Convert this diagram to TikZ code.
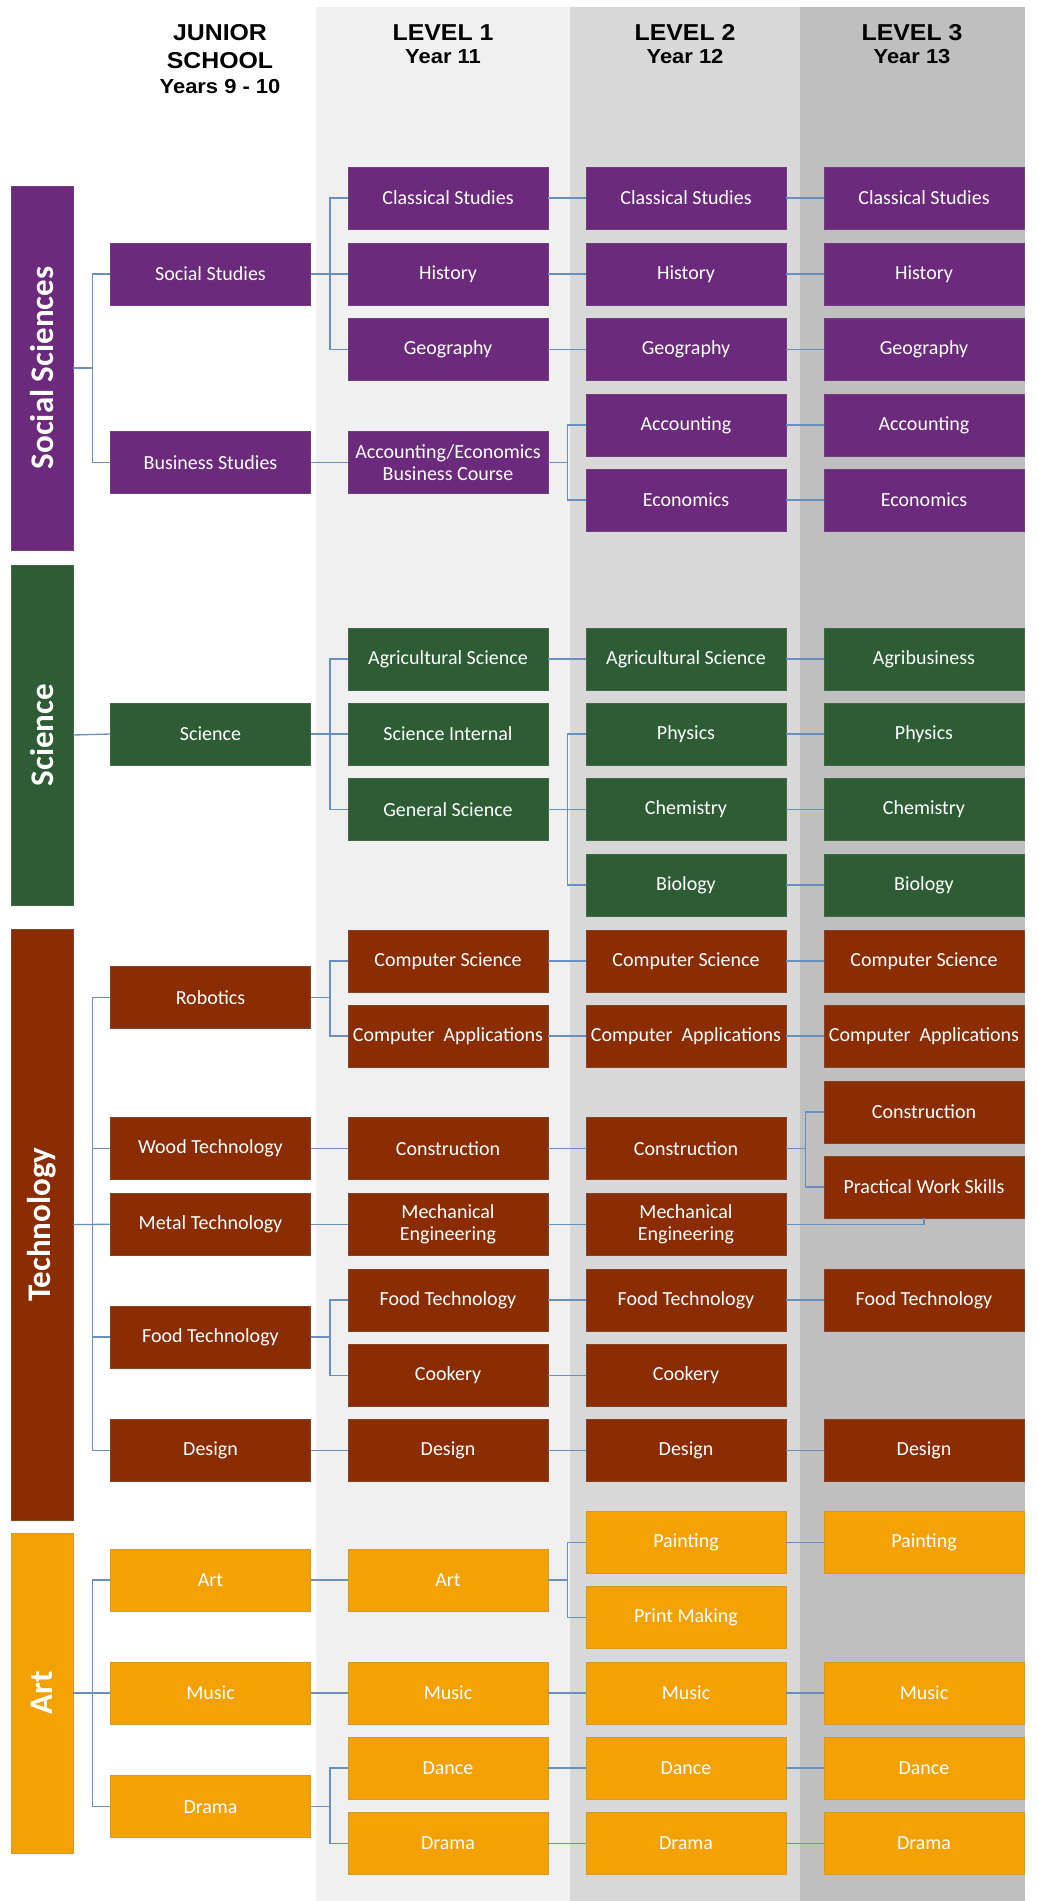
\documentclass[tikz,border=0pt]{standalone}
\usepackage{fontspec}
\setmainfont{Carlito}
\newfontfamily\hdrfont[FakeStretch=1.08]{Liberation Sans}
\definecolor{cpur}{HTML}{6B2A7B}
\definecolor{cgrn}{HTML}{2E5D35}
\definecolor{cbrn}{HTML}{8A2C04}
\definecolor{corg}{HTML}{F3A104}
\definecolor{cline}{HTML}{6790BF}
\definecolor{bandA}{HTML}{F0F0F0}
\definecolor{bandB}{HTML}{D8D8D8}
\definecolor{bandC}{HTML}{BFBFBF}
\begin{document}
\begin{tikzpicture}[x=1pt,y=-1pt,
  box/.style={minimum width=200pt,minimum height=62pt,inner sep=0pt,align=center,text=white,
    font=\fontsize{20}{22.5}\selectfont,line width=0.8pt},
  pbox/.style={box,fill=cpur,draw=cpur!75!gray},
  gbox/.style={box,fill=cgrn,draw=cgrn!75!gray},
  bbox/.style={box,fill=cbrn,draw=cbrn!75!gray},
  obox/.style={box,fill=corg,draw=corg!75!gray},
  bar/.style={minimum width=62pt,inner sep=0pt,text=white,line width=0.8pt,
    font=\fontsize{33}{36}\selectfont\bfseries},
  conn/.style={draw=cline,line width=1.3pt},
  hdr/.style={anchor=base,font=\hdrfont\bfseries\fontsize{23}{26}\selectfont},
  hdrs/.style={anchor=base,font=\hdrfont\bfseries\fontsize{20.3}{24}\selectfont}
]
\useasboundingbox (0,0) rectangle (1037,1901);
\fill[white] (0,0) rectangle (1037,1901);
% column bands
\fill[bandA] (316,7) rectangle (570,1901);
\fill[bandB] (570,7) rectangle (800,1901);
\fill[bandC] (800,7) rectangle (1025,1901);

% headers
\node[hdr] (hj1) at (220,40) {JUNIOR};
\node[hdr] (hj2) at (220,68) {SCHOOL};
\node[hdrs] (hj3) at (220,93) {Years 9 - 10};
\node[hdr] (hA1) at (443,40) {LEVEL 1};
\node[hdrs] (hA2) at (443,63.5) {Year 11};
\node[hdr] (hB1) at (685,40) {LEVEL 2};
\node[hdrs] (hB2) at (685,63.5) {Year 12};
\node[hdr] (hC1) at (912,40) {LEVEL 3};
\node[hdrs] (hC2) at (912,63.5) {Year 13};

% category bars
\node[bar,fill=cpur,draw=cpur!75!gray,minimum height=364pt] (barS) at (42,368) {\rotatebox{90}{Social Sciences}};
\node[bar,fill=cgrn,draw=cgrn!75!gray,minimum height=340pt] (barC) at (42,735) {\rotatebox{90}{Science}};
\node[bar,fill=cbrn,draw=cbrn!75!gray,minimum height=591pt] (barT) at (42,1224.5) {\rotatebox{90}{Technology}};
\node[bar,fill=corg,draw=corg!75!gray,minimum height=320pt] (barA) at (42,1693) {\rotatebox{90}{Art}};

% ---------- Social Sciences ----------
\node[pbox] (ss) at (210.5,274) {Social Studies};
\node[pbox] (bs) at (210.5,462.5) {Business Studies};
\node[pbox] (cs1) at (448,198) {Classical Studies};
\node[pbox] (hi1) at (448,274) {History};
\node[pbox] (ge1) at (448,349.5) {Geography};
\node[pbox] (ae1) at (448,462.5) {Accounting/Economics\\Business Course};
\node[pbox] (cs2) at (686,198) {Classical Studies};
\node[pbox] (hi2) at (686,274) {History};
\node[pbox] (ge2) at (686,349.5) {Geography};
\node[pbox] (ac2) at (686,425) {Accounting};
\node[pbox] (ec2) at (686,500) {Economics};
\node[pbox] (cs3) at (924,198) {Classical Studies};
\node[pbox] (hi3) at (924,274) {History};
\node[pbox] (ge3) at (924,349.5) {Geography};
\node[pbox] (ac3) at (924,425) {Accounting};
\node[pbox] (ec3) at (924,500) {Economics};

% ---------- Science ----------
\node[gbox] (sc) at (210.5,734) {Science};
\node[gbox] (ag1) at (448,659) {Agricultural Science};
\node[gbox] (si1) at (448,734) {Science Internal};
\node[gbox] (gs1) at (448,809.5) {General Science};
\node[gbox] (ag2) at (686,659) {Agricultural Science};
\node[gbox] (ph2) at (686,734) {Physics};
\node[gbox] (ch2) at (686,809.5) {Chemistry};
\node[gbox] (bi2) at (686,885) {Biology};
\node[gbox] (ab3) at (924,659) {Agribusiness};
\node[gbox] (ph3) at (924,734) {Physics};
\node[gbox] (ch3) at (924,809.5) {Chemistry};
\node[gbox] (bi3) at (924,885) {Biology};

% ---------- Technology ----------
\node[bbox] (ro) at (210.5,997.5) {Robotics};
\node[bbox] (wt) at (210.5,1148.7) {Wood Technology};
\node[bbox] (mt) at (210.5,1224.3) {Metal Technology};
\node[bbox] (ft) at (210.5,1337) {Food Technology};
\node[bbox] (de) at (210.5,1450.5) {Design};
\node[bbox] (cp1) at (448,961) {Computer Science};
\node[bbox] (ca1) at (448,1036) {Computer\ \ Applications};
\node[bbox] (co1) at (448,1148.7) {Construction};
\node[bbox] (me1) at (448,1224.3) {Mechanical\\Engineering};
\node[bbox] (fo1) at (448,1300) {Food Technology};
\node[bbox] (ck1) at (448,1375.5) {Cookery};
\node[bbox] (de1) at (448,1450.5) {Design};
\node[bbox] (cp2) at (686,961) {Computer Science};
\node[bbox] (ca2) at (686,1036) {Computer\ \ Applications};
\node[bbox] (co2) at (686,1148.7) {Construction};
\node[bbox] (me2) at (686,1224.3) {Mechanical\\Engineering};
\node[bbox] (fo2) at (686,1300) {Food Technology};
\node[bbox] (ck2) at (686,1375.5) {Cookery};
\node[bbox] (de2) at (686,1450.5) {Design};
\node[bbox] (cp3) at (924,961) {Computer Science};
\node[bbox] (ca3) at (924,1036) {Computer\ \ Applications};
\node[bbox] (co3) at (924,1112) {Construction};
\node[bbox] (pw3) at (924,1187) {Practical Work Skills};
\node[bbox] (fo3) at (924,1300) {Food Technology};
\node[bbox] (de3) at (924,1450.5) {Design};

% ---------- Art ----------
\node[obox] (ar) at (210.5,1580) {Art};
\node[obox] (mu) at (210.5,1693) {Music};
\node[obox] (dr) at (210.5,1806.7) {Drama};
\node[obox] (ar1) at (448,1580) {Art};
\node[obox] (mu1) at (448,1693) {Music};
\node[obox] (da1) at (448,1768) {Dance};
\node[obox] (dr1) at (448,1843.4) {Drama};
\node[obox] (pa2) at (686,1542.5) {Painting};
\node[obox] (pm2) at (686,1617.5) {Print Making};
\node[obox] (mu2) at (686,1693) {Music};
\node[obox] (da2) at (686,1768) {Dance};
\node[obox] (dr2) at (686,1843.4) {Drama};
\node[obox] (pa3) at (924,1542.5) {Painting};
\node[obox] (mu3) at (924,1693) {Music};
\node[obox] (da3) at (924,1768) {Dance};
\node[obox] (dr3) at (924,1843.4) {Drama};

% ---------- connectors ----------
\begin{scope}[on background layer/.style={}]
% Social
\draw[conn] (barS.east) -- ++(19,0) |- (ss.west);
\draw[conn] (barS.east) -- ++(19,0) |- (bs.west);
\draw[conn] (ss.east) -- ++(19,0) |- (cs1.west);
\draw[conn] (ss.east) -- (hi1.west);
\draw[conn] (ss.east) -- ++(19,0) |- (ge1.west);
\draw[conn] (bs.east) -- (ae1.west);
\draw[conn] (cs1.east) -- (cs2.west);
\draw[conn] (hi1.east) -- (hi2.west);
\draw[conn] (ge1.east) -- (ge2.west);
\draw[conn] (ae1.east) -- ++(19,0) |- (ac2.west);
\draw[conn] (ae1.east) -- ++(19,0) |- (ec2.west);
\draw[conn] (cs2.east) -- (cs3.west);
\draw[conn] (hi2.east) -- (hi3.west);
\draw[conn] (ge2.east) -- (ge3.west);
\draw[conn] (ac2.east) -- (ac3.west);
\draw[conn] (ec2.east) -- (ec3.west);
% Science
\draw[conn] (barC.east) -- (sc.west);
\draw[conn] (sc.east) -- ++(19,0) |- (ag1.west);
\draw[conn] (sc.east) -- (si1.west);
\draw[conn] (sc.east) -- ++(19,0) |- (gs1.west);
\draw[conn] (ag1.east) -- (ag2.west);
\draw[conn] (gs1.east) -- ++(19,0) |- (ph2.west);
\draw[conn] (gs1.east) -- (ch2.west);
\draw[conn] (gs1.east) -- ++(19,0) |- (bi2.west);
\draw[conn] (ag2.east) -- (ab3.west);
\draw[conn] (ph2.east) -- (ph3.west);
\draw[conn] (ch2.east) -- (ch3.west);
\draw[conn] (bi2.east) -- (bi3.west);
% Technology
\draw[conn] (barT.east) -- ++(19,0) |- (ro.west);
\draw[conn] (barT.east) -- ++(19,0) |- (wt.west);
\draw[conn] (barT.east) -- (mt.west);
\draw[conn] (barT.east) -- ++(19,0) |- (ft.west);
\draw[conn] (barT.east) -- ++(19,0) |- (de.west);
\draw[conn] (ro.east) -- ++(19,0) |- (cp1.west);
\draw[conn] (ro.east) -- ++(19,0) |- (ca1.west);
\draw[conn] (wt.east) -- (co1.west);
\draw[conn] (mt.east) -- (me1.west);
\draw[conn] (ft.east) -- ++(19,0) |- (fo1.west);
\draw[conn] (ft.east) -- ++(19,0) |- (ck1.west);
\draw[conn] (de.east) -- (de1.west);
\draw[conn] (cp1.east) -- (cp2.west);
\draw[conn] (ca1.east) -- (ca2.west);
\draw[conn] (co1.east) -- (co2.west);
\draw[conn] (me1.east) -- (me2.west);
\draw[conn] (fo1.east) -- (fo2.west);
\draw[conn] (ck1.east) -- (ck2.west);
\draw[conn] (de1.east) -- (de2.west);
\draw[conn] (cp2.east) -- (cp3.west);
\draw[conn] (ca2.east) -- (ca3.west);
\draw[conn] (co2.east) -- ++(19,0) |- (co3.west);
\draw[conn] (co2.east) -- ++(19,0) |- (pw3.west);
\draw[conn] (me2.east) -| (pw3.south);
\draw[conn] (fo2.east) -- (fo3.west);
\draw[conn] (de2.east) -- (de3.west);
% Art
\draw[conn] (barA.east) -- ++(19,0) |- (ar.west);
\draw[conn] (barA.east) -- (mu.west);
\draw[conn] (barA.east) -- ++(19,0) |- (dr.west);
\draw[conn] (ar.east) -- (ar1.west);
\draw[conn] (mu.east) -- (mu1.west);
\draw[conn] (dr.east) -- ++(19,0) |- (da1.west);
\draw[conn] (dr.east) -- ++(19,0) |- (dr1.west);
\draw[conn] (ar1.east) -- ++(19,0) |- (pa2.west);
\draw[conn] (ar1.east) -- ++(19,0) |- (pm2.west);
\draw[conn] (mu1.east) -- (mu2.west);
\draw[conn] (da1.east) -- (da2.west);
\draw[conn] (dr1.east) -- (dr2.west);
\draw[conn] (pa2.east) -- (pa3.west);
\draw[conn] (mu2.east) -- (mu3.west);
\draw[conn] (da2.east) -- (da3.west);
\draw[conn] (dr2.east) -- (dr3.west);
\end{scope}
\end{tikzpicture}
\end{document}
